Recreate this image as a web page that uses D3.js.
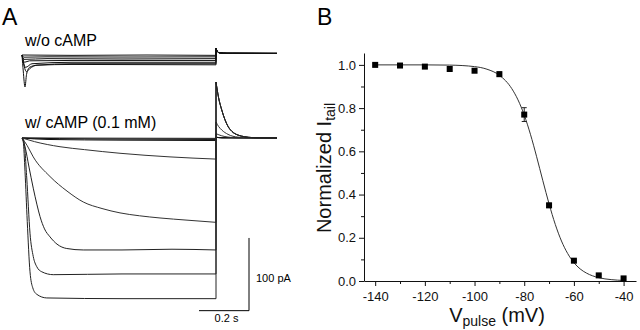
<!DOCTYPE html>
<html><head><meta charset="utf-8">
<script src="https://cdn.jsdelivr.net/npm/d3@7"></script>
<style>
html,body{margin:0;padding:0;background:#fff;}
svg{display:block;font-family:"Liberation Sans",Arial,Helvetica,sans-serif;}
</style></head><body>
<svg id="chart" width="640" height="330"></svg>
<script>
// ---------- Panel A: current traces (time in ms, current in pA) ----------
// w/o cAMP, pulse part
const wo1 = [[0,0],[200,-0.5],[500,0],[776,-0.5]];
const wo2 = [[0,0],[8,-3],[100,-2.5],[400,-2.8],[776,-2.5]];
const wo3 = [[0,0],[8,-6],[100,-5],[400,-5.5],[776,-5]];
const wo4 = [[0,0],[10,-10],[30,-8],[200,-7.5],[776,-7.5]];
const wo5 = [[0,0],[14,-17],[40,-12],[200,-10],[776,-10]];
const wo6 = [[0,0],[18,-23],[30,-19],[60,-14],[200,-12],[776,-12]];
const wo7 = [[0,0],[5,-22],[12,-44],[18,-27],[30,-17],[60,-14],[200,-13],[776,-13.5]];
// w/o cAMP, tail part
const woTail = [[776,9.6],[781,5],[790,3],[820,2.4],[1020,2.2]];

// w/ cAMP (0.1 mM), pulse part
const wc1 = [[0,0],[400,-0.3],[776,-0.5]];
const wc2 = [[0,0],[300,-1.5],[776,-2]];
const wc3 = [[0,0],[100,-2],[400,-3],[776,-3.5]];
const wc4 = [[0,0],[50,-5],[152,-12],[250,-16],[392,-21],[592,-26],[776,-29]];
const wc5 = [[0,0],[20,-10],[45,-26],[112,-53],[180,-73],[245,-88],[320,-97],[392,-103],[470,-107],[552,-110],[660,-113],[776,-116]];
const wc6 = [[0,0],[12,-12],[28,-40],[45,-69],[60,-92],[72,-108],[90,-125],[112,-136],[140,-146],[179,-152],[245,-154],[400,-154],[600,-153],[776,-154]];
const wc7 = [[0,0],[8,-5],[19,-55],[32,-131],[45,-163],[59,-177],[79,-184],[125,-188],[400,-187],[776,-187]];
const wc8 = [[0,0],[5,-5],[12,-46],[21,-115],[32,-184],[43,-206],[59,-215],[99,-220],[400,-221],[776,-221]];
// w/ cAMP, tail parts
const wcTailFull = [[776,77],[786,56],[799,38.5],[812,25],[824,16],[840,9],[864,4],[890,1.8],[920,0.6],[1020,0]];
const wcTailMid = [[776,22],[786,16],[799,11],[824,5],[864,1.2],[920,0.2],[1020,0]];
const wcTailSmall = [[776,6],[799,3],[824,1.3],[864,0.3],[1020,0]];
const wcTailNone = [[776,1],[800,0.3],[1020,0]];

// scale bar values
const barTime = [708, 908];      // 0.2 s
const barCurrent = [-137.5, -237.5]; // 100 pA

// ---------- Panel B: normalized tail current ----------
const vPulse = [-140,-130,-120,-110,-100,-90,-80,-70,-60,-50,-40];
const iTail = [1.0,0.997,0.992,0.981,0.973,0.957,0.77,0.35,0.094,0.026,0.012];
const iTailErr = [0.005,0.005,0.008,0.008,0.008,0.01,0.032,0.01,0.006,0.004,0.004];
const fitV = [-140,-130,-120,-110,-100,-95,-90,-85,-82.5,-80,-77.5,-75,-72.5,-70,-67.5,-65,-62.5,-60,-57.5,-55,-50,-45,-40];
const fitI = [1.0,1.0,1.0,0.999,0.992,0.98,0.952,0.89,0.838,0.768,0.679,0.575,0.464,0.357,0.262,0.185,0.127,0.085,0.056,0.037,0.0154,0.0064,0.0026];
const xMajor = [-140,-120,-100,-80,-60,-40];
const xMinor = [-130,-110,-90,-70,-50];
const yMajor = [0,0.2,0.4,0.6,0.8,1.0];
const yMinor = [0.1,0.3,0.5,0.7,0.9];

const svg = d3.select("#chart");
svg.append("rect").attr("width",640).attr("height",330).attr("fill","#fff");

// ----- Panel A -----
const xA = d3.scaleLinear().domain([0, 1020]).range([22, 277]);
const yWo = d3.scaleLinear().domain([0, -100]).range([55, 127.7]);
const yW = d3.scaleLinear().domain([0, -100]).range([138, 210.7]);

const gA = svg.append("g");
function drawTrace(y, pulse, tail, color) {
  const line = d3.line().x(d => xA(d[0])).y(d => y(d[1])).curve(d3.curveMonotoneX);
  const last = pulse[pulse.length - 1];
  const style = p => p.attr("fill","none").attr("stroke",color).attr("stroke-width",1);
  gA.append("path").attr("d", line(pulse)).call(style);
  gA.append("path").attr("d", d3.line()([[xA(last[0]), y(last[1])],[xA(tail[0][0]), y(tail[0][1])]])).call(style);
  gA.append("path").attr("d", line(tail)).call(style);
}
[wo1,wo2,wo3,wo4,wo5,wo6,wo7].forEach(tr => drawTrace(yWo, tr, woTail, "#111"));
drawTrace(yW, wc1, wcTailNone, "#111");
drawTrace(yW, wc2, wcTailNone, "#111");
drawTrace(yW, wc3, wcTailNone, "#111");
drawTrace(yW, wc4, wcTailSmall, "#333");
drawTrace(yW, wc5, wcTailMid, "#333");
drawTrace(yW, wc6, wcTailFull, "#222");
drawTrace(yW, wc7, wcTailFull, "#222");
drawTrace(yW, wc8, wcTailFull, "#222");

// scale bar
gA.append("path")
  .attr("d", d3.line()([[xA(barTime[0]), yW(barCurrent[1])],[xA(barTime[1]), yW(barCurrent[1])],[xA(barTime[1]), yW(barCurrent[0])]]))
  .attr("fill","none").attr("stroke","#000").attr("stroke-width",1);
gA.append("text").attr("x", xA(barTime[1]) + 7).attr("y", yW((barCurrent[0]+barCurrent[1])/2) + 8)
  .attr("font-size", 11).text("100 pA");
gA.append("text").attr("x", xA((barTime[0]+barTime[1])/2) + 2.5).attr("y", yW(barCurrent[1]) + 11.5)
  .attr("font-size", 11).attr("text-anchor","middle").text("0.2 s");

gA.append("text").attr("x",25).attr("y",46).attr("font-size",16).text("w/o cAMP");
gA.append("text").attr("x",25).attr("y",128).attr("font-size",16).text("w/ cAMP (0.1 mM)");
svg.append("text").attr("x",2).attr("y",25).attr("font-size",23).text("A");
svg.append("text").attr("x",317).attr("y",25).attr("font-size",23).text("B");

// ----- Panel B -----
const xB = d3.scaleLinear().domain([-144.5, -35]).range([364, 636]);
const yB = d3.scaleLinear().domain([0, 1.055]).range([281, 53]);
const gB = svg.append("g");

const xAxis = gB.append("g").attr("transform","translate(0,281)")
  .call(d3.axisBottom(xB).tickValues(xMajor).tickSize(5).tickSizeOuter(0).tickPadding(5.5).tickFormat(d => String(d)));
gB.append("g").attr("transform","translate(0,281)")
  .call(d3.axisBottom(xB).tickValues(xMinor).tickSize(3).tickSizeOuter(0).tickFormat(""))
  .select(".domain").remove();
const yAxis = gB.append("g").attr("transform","translate(364,0)")
  .call(d3.axisLeft(yB).tickValues(yMajor).tickSize(5).tickSizeOuter(0).tickPadding(3).tickFormat(d3.format(".1f")));
gB.append("g").attr("transform","translate(364,0)")
  .call(d3.axisLeft(yB).tickValues(yMinor).tickSize(3).tickSizeOuter(0).tickFormat(""))
  .select(".domain").remove();
gB.selectAll(".tick text").attr("font-size",13).attr("font-family",'"Liberation Sans",Arial,sans-serif').attr("fill","#111");
gB.selectAll(".domain, .tick line").attr("stroke","#111");

// fit curve
const fitData = fitV.map((v,i) => [v, fitI[i]]);
gB.append("path")
  .attr("d", d3.line().x(d => xB(d[0])).y(d => yB(d[1])).curve(d3.curveMonotoneX)(fitData))
  .attr("fill","none").attr("stroke","#333").attr("stroke-width",1);

// error bars
const pts = vPulse.map((v,i) => ({v, m: iTail[i], e: iTailErr[i]}));
const eb = gB.append("g").attr("stroke","#222").attr("stroke-width",1);
pts.forEach(p => {
  eb.append("line").attr("x1",xB(p.v)).attr("x2",xB(p.v)).attr("y1",yB(p.m+p.e)).attr("y2",yB(p.m-p.e));
  eb.append("line").attr("x1",xB(p.v)-2.5).attr("x2",xB(p.v)+2.5).attr("y1",yB(p.m+p.e)).attr("y2",yB(p.m+p.e));
  eb.append("line").attr("x1",xB(p.v)-2.5).attr("x2",xB(p.v)+2.5).attr("y1",yB(p.m-p.e)).attr("y2",yB(p.m-p.e));
});
// markers
gB.selectAll("rect.pt").data(pts).enter().append("rect").attr("class","pt")
  .attr("x", d => xB(d.v) - 3).attr("y", d => yB(d.m) - 3)
  .attr("width",6).attr("height",6).attr("fill","#000");

// axis titles
const yt = gB.append("text").attr("transform","translate(331,168) rotate(-90)")
  .attr("text-anchor","middle").attr("font-size",20).attr("fill","#111");
yt.append("tspan").text("Normalized I");
yt.append("tspan").attr("font-size",14).attr("dy",4).text("tail");

const xt = gB.append("text").attr("x",497).attr("y",321.5)
  .attr("text-anchor","middle").attr("font-size",20).attr("fill","#111");
xt.append("tspan").text("V");
xt.append("tspan").attr("font-size",14).attr("dy",4).text("pulse");
xt.append("tspan").attr("dy",-4).text(" (mV)");
</script>
</body></html>
